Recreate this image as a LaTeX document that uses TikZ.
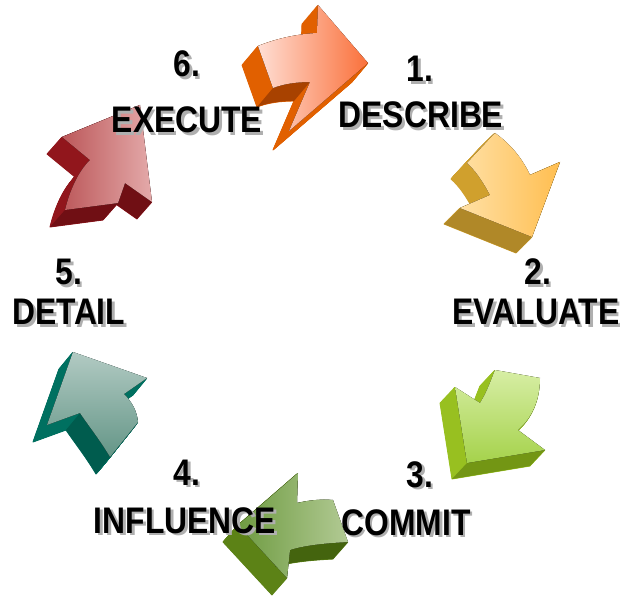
\documentclass[tikz,border=0pt]{standalone}
\usepackage{fontspec}
\newfontfamily\lblfont{Liberation Sans}[FakeStretch=0.86]
\definecolor{oF1}{RGB}{255,222,212}\definecolor{oF2}{RGB}{250,112,58}
\definecolor{oS1}{RGB}{225,96,0}\definecolor{oS2}{RGB}{168,66,0}
\definecolor{yF1}{RGB}{255,224,165}\definecolor{yF2}{RGB}{255,190,80}
\definecolor{yS1}{RGB}{208,160,45}\definecolor{yS2}{RGB}{176,136,40}
\definecolor{gF1}{RGB}{215,238,165}\definecolor{gF2}{RGB}{165,210,75}
\definecolor{gS1}{RGB}{152,192,32}\definecolor{gS2}{RGB}{115,150,20}
\definecolor{vF1}{RGB}{110,155,65}\definecolor{vF2}{RGB}{178,202,148}
\definecolor{vS1}{RGB}{92,130,22}\definecolor{vS2}{RGB}{68,100,14}
\definecolor{tF1}{RGB}{178,202,195}\definecolor{tF2}{RGB}{100,150,135}
\definecolor{tS1}{RGB}{0,112,96}\definecolor{tS2}{RGB}{0,92,78}
\definecolor{rF1}{RGB}{188,88,90}\definecolor{rF2}{RGB}{228,170,170}
\definecolor{rS1}{RGB}{145,22,28}\definecolor{rS2}{RGB}{112,15,20}
\definecolor{shadowgray}{RGB}{175,175,175}
\newcommand\pathA{(258,46) .. controls (278,38) and (298,34) .. (317,33) -- (318,5) -- (368,63) -- (289,131) -- (310,82) .. controls (296,82) and (283,84) .. (273,88) -- cycle}
\newcommand\pathB{(495,133) .. controls (512,145) and (523,160) .. (530,175) -- (560,162) -- (532,237) -- (460,208) -- (490,195) .. controls (482,180) and (475,170) .. (467,163) -- cycle}
\newcommand\pathC{(495,370) -- (540,378) .. controls (540,400) and (532,418) .. (518,430) -- (545,450) -- (467,463) -- (455,387) -- (480,403) .. controls (487,392) and (491,380) .. cycle}
\newcommand\pathD{(298,473) -- (297,503) .. controls (310,500) and (322,499) .. (333,500) -- (348,542) .. controls (328,543) and (305,545) .. (290,550) -- (287,578) -- (238,525) -- cycle}
\newcommand\pathE{(73,352) -- (147,378) -- (124,394) .. controls (132,402) and (137,411) .. (138,422) -- (110,457) .. controls (100,440) and (88,425) .. (80,413) -- (47,425) -- cycle}
\newcommand\pathF{(140,105) -- (152,202) -- (125,183) -- (118,203) -- (65,210) .. controls (70,190) and (78,172) .. (90,160) -- (62,137) -- cycle}
% #1 path, #2 dx, #3 dy, #4 side colour
\newcommand\sweep[4]{%
  \foreach \k in {30,29,...,1}{%
    \filldraw[fill=#4,draw=#4,line width=0.9pt,line join=round,shift={({#2*\k/30},{#3*\k/30})}] #1;}}
% label text with its own drop shadow
\newcommand\sh[1]{\rlap{\kern2.5pt\raisebox{-2.5pt}{\textcolor{shadowgray}{#1}}}#1}
\tikzset{
  lbl/.style={font=\lblfont\bfseries\fontsize{37}{37}\selectfont, inner sep=0pt, anchor=base}
}
\begin{document}
\begin{tikzpicture}[x=1pt,y=-1pt]
\useasboundingbox (0,0) rectangle (627,596);
\fill[white] (0,0) rectangle (627,596);
% orange arrow
\sweep{\pathA}{-16}{19}{oS1}
\fill[oS2] (310,82) .. controls (296,82) and (283,84) .. (273,88) -- (257,107) .. controls (267,103) and (280,101) .. (294,101) -- cycle;
\fill[left color=oF1,right color=oF2] \pathA;
% yellow arrow
\sweep{\pathB}{-16}{16}{yS1}
\fill[yS2] (460,208) -- (532,237) -- (516,253) -- (444,224) -- cycle;
\fill[left color=yF1,right color=yF2] \pathB;
% light green arrow
\sweep{\pathC}{-15}{16}{gS1}
\fill[gS2] (467,463) -- (545,450) -- (530,466) -- (452,479) -- cycle;
\fill[top color=gF1,bottom color=gF2] \pathC;
% olive arrow
\sweep{\pathD}{-15}{17}{vS1}
\fill[vS2] (348,542) .. controls (328,543) and (305,545) .. (290,550) -- (275,567) .. controls (290,562) and (313,560) .. (333,559) -- cycle;
\fill[left color=vF1,right color=vF2] \pathD;
% teal arrow
\sweep{\pathE}{-14}{17}{tS1}
\fill[tS2] (110,457) .. controls (100,440) and (88,425) .. (80,413) -- (66,430) .. controls (74,442) and (86,457) .. (96,474) -- cycle;
\fill[top color=tF1,bottom color=tF2] \pathE;
% red arrow
\sweep{\pathF}{-15}{17}{rS1}
\fill[rS2] (118,203) -- (65,210) -- (50,227) -- (103,220) -- cycle;
\fill[rS2] (152,202) -- (125,183) -- (110,200) -- (137,219) -- cycle;
\fill[left color=rF1,right color=rF2] \pathF;
% labels
\node[lbl] (t1a) at (420,82) {\sh{1.}};
\node[lbl] (t1b) at (421,128) {\sh{DESCRIBE}};
\node[lbl] (t2a) at (538,285) {\sh{2.}};
\node[lbl] (t2b) at (536,325) {\sh{EVALUATE}};
\node[lbl] (t3a) at (420,487) {\sh{3.}};
\node[lbl] (t3b) at (406,535) {\sh{COMMIT}};
\node[lbl] (t4a) at (187,485) {\sh{4.}};
\node[lbl] (t4b) at (185,533) {\sh{INFLUENCE}};
\node[lbl] (t5a) at (69,285) {\sh{5.}};
\node[lbl] (t5b) at (69,325) {\sh{DETAIL}};
\node[lbl] (t6a) at (187,77) {\sh{6.}};
\node[lbl] (t6b) at (187,133) {\sh{EXECUTE}};
\end{tikzpicture}
\end{document}
